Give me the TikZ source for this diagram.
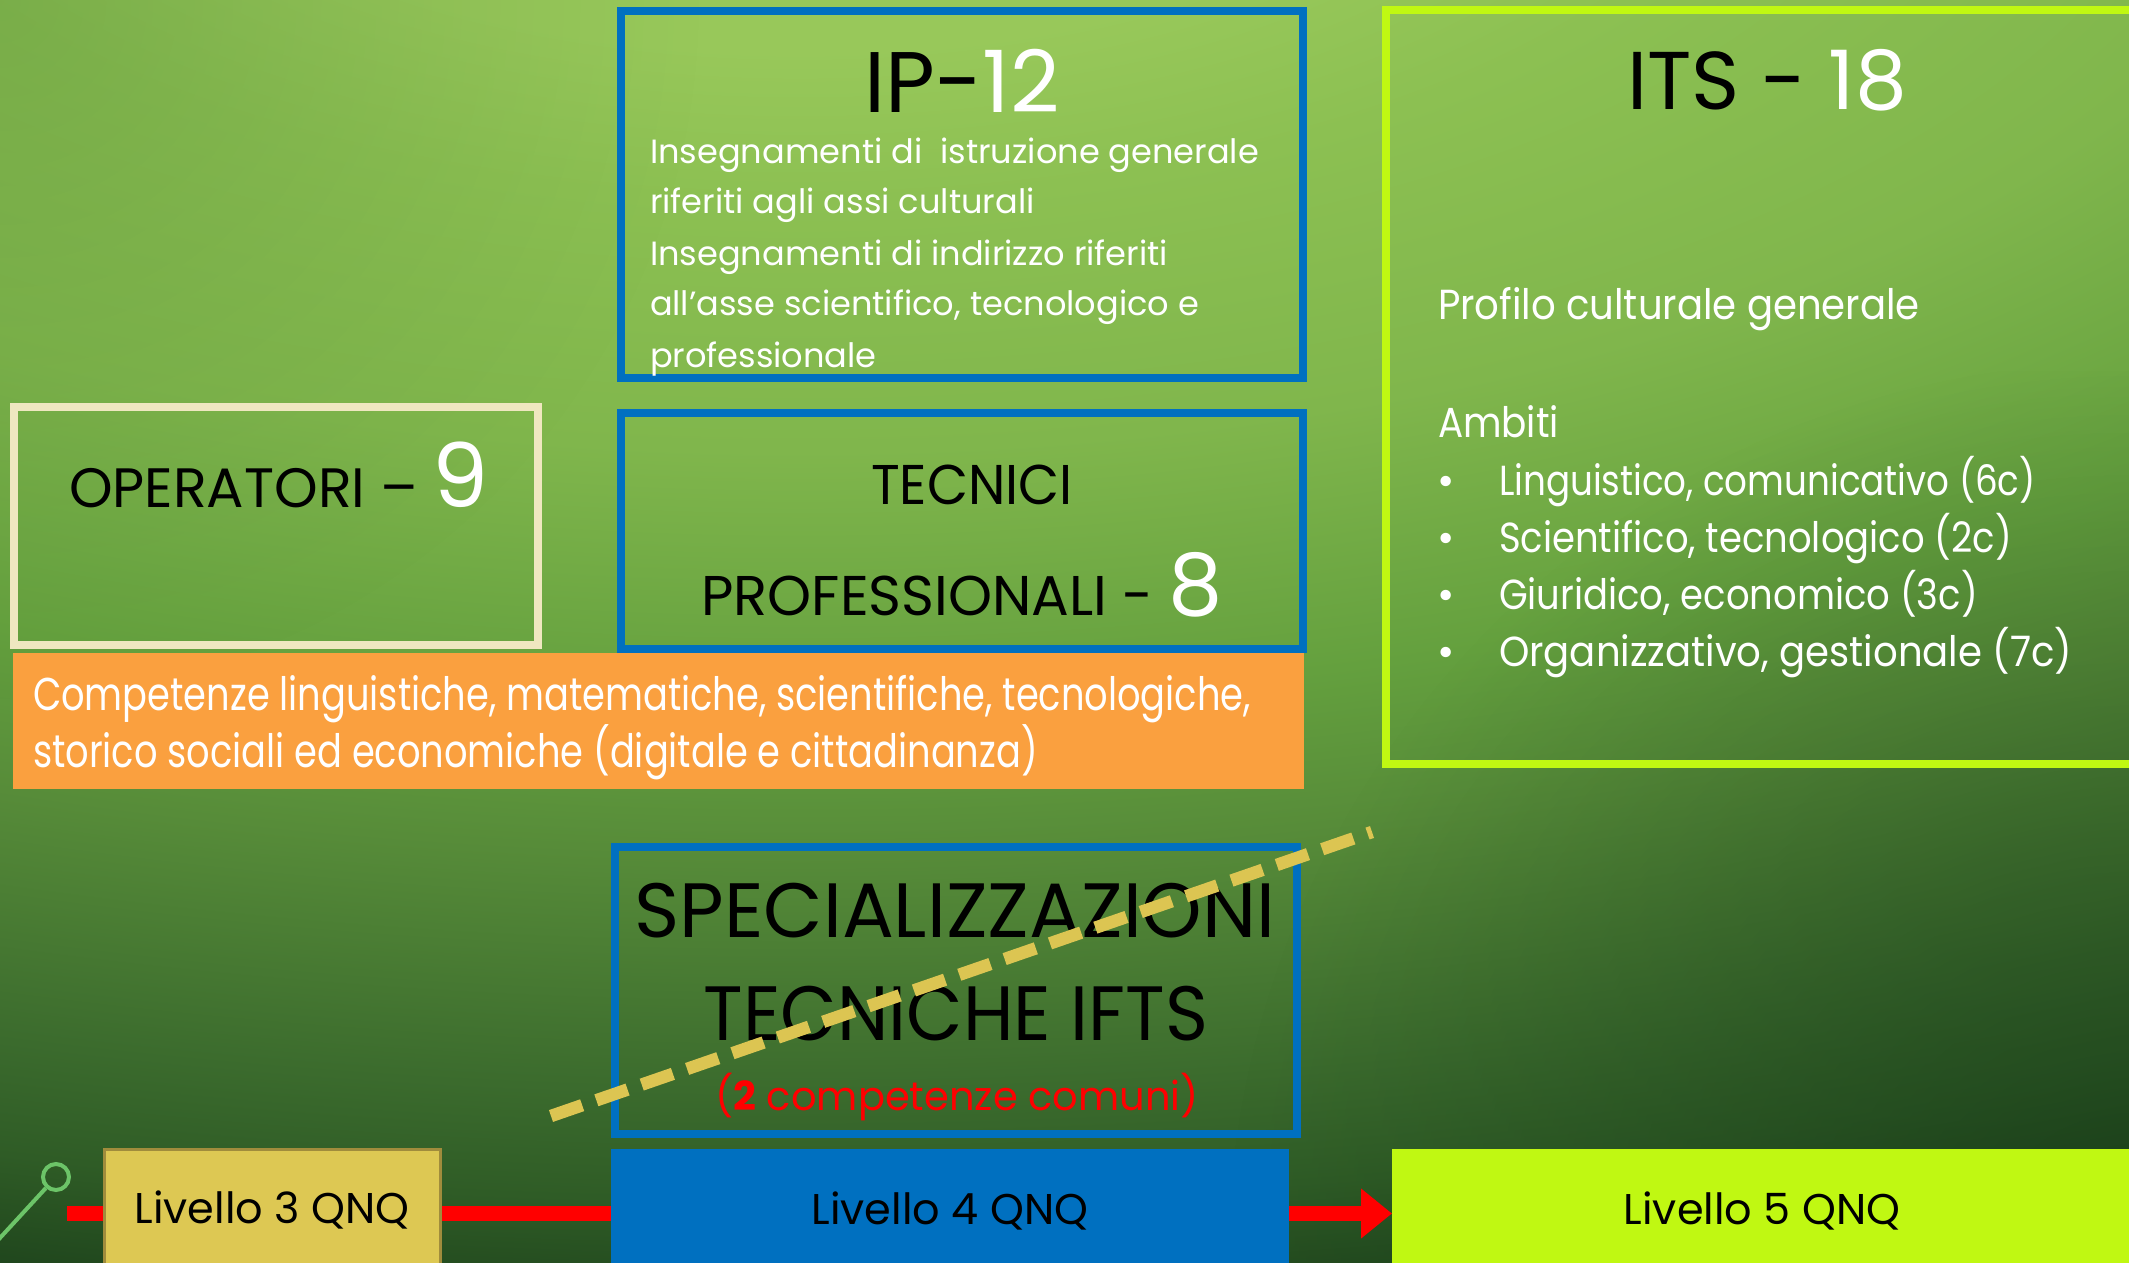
\documentclass[tikz,border=0pt]{standalone}
\usepackage{fontspec}
\setmainfont{Poppins}
\newfontfamily\fOr[FakeStretch=0.80]{Poppins}
\newfontfamily\fIts[FakeStretch=0.89]{Poppins}
\newfontfamily\fItsL[FakeStretch=0.85]{Poppins}
\newfontfamily\fItsS[FakeStretch=0.88]{Poppins}
\newfontfamily\fItsB[FakeStretch=0.92]{Poppins}
\newfontfamily\fSpec[FakeStretch=0.95]{Poppins}
\usetikzlibrary{arrows.meta,fadings}
\definecolor{c0}{HTML}{98C85A}
\definecolor{c1}{HTML}{8CC052}
\definecolor{c2}{HTML}{80B64C}
\definecolor{c3}{HTML}{64A03E}
\definecolor{c4}{HTML}{578C39}
\definecolor{c5}{HTML}{3B6B2D}
\definecolor{c6}{HTML}{2F5C26}
\definecolor{c7}{HTML}{173A18}
\definecolor{bluebox}{HTML}{0070C0}
\definecolor{creambox}{HTML}{EFE7C0}
\definecolor{orangebox}{HTML}{FAA03F}
\definecolor{limebox}{HTML}{C0F812}
\definecolor{yellowbox}{HTML}{DDC853}
\definecolor{yellowedge}{HTML}{A08C3C}
\definecolor{dashcol}{HTML}{DCC552}
\definecolor{pincol}{HTML}{6CC468}
\pgfdeclareradialshading{bgshade}{\pgfpoint{0bp}{0bp}}{color(0bp)=(c0); color(3.75bp)=(c0); color(5.625bp)=(c1); color(8.75bp)=(c2); color(11.875bp)=(c3); color(13.75bp)=(c4); color(16.75bp)=(c5); color(18.125bp)=(c6); color(20.25bp)=(c7); color(50bp)=(c7)}
\tikzfading[name=spotfade, inner color=transparent!0, outer color=transparent!100]
\newcommand\setfs[1]{\fontsize{#1}{#1}\selectfont}
\begin{document}
\begin{tikzpicture}[x=1pt,y=-1pt,
  txt/.style={inner sep=0pt, outer sep=0pt, text=white},
  frame/.style={draw, line width=8pt, inner sep=0pt, outer sep=0pt},
  solidbox/.style={inner sep=0pt, outer sep=0pt},
  pinline/.style={draw=pincol, line width=4pt}]
\useasboundingbox (0,0) rectangle (2129,1263);
\begin{scope}
\clip (0,0) rectangle (2129,1263);
\begin{scope}[xscale=2.2]
\shade[shading=bgshade] (-1636.4,-2250) rectangle (2363.6,1750);
\end{scope}
\fill[c7, fill opacity=0.6, path fading=spotfade] (1229,363) rectangle (3029,2163);
\fill[c4, fill opacity=0.35, path fading=spotfade] (-700,-700) rectangle (700,700);
\end{scope}

% red level line
\coordinate (rstart) at (67,1213.5);
\node[solidbox, fill=limebox, minimum width=748pt, minimum height=121pt] (lvlC) at (1766,1209.5) {};
\draw[red, line width=15pt, -{Triangle[length=31pt,width=48pt]}] (rstart) -- (lvlC.west |- rstart);

% IP-12 box
\node[frame, draw=bluebox, minimum width=682pt, minimum height=367pt] (ipbox) at (962,194.5) {};
\node[txt, anchor=base, text=black] (iptitle) at (962,112) {\setfs{86}IP-\textcolor{white}{12}};
\node[txt, anchor=base west] (ip1) at (650,163) {\setfs{33.6}Insegnamenti di \ istruzione generale};
\node[txt, anchor=base west] (ip2) at (650,213) {\setfs{33.6}riferiti agli assi culturali};
\node[txt, anchor=base west] (ip3) at (650,265) {\setfs{33.6}Insegnamenti di indirizzo riferiti};
\node[txt, anchor=base west] (ip4) at (650,315) {\setfs{33.6}all’asse scientifico, tecnologico e};
\node[txt, anchor=base west] (ip5) at (650,367) {\setfs{33.6}professionale};

% OPERATORI box
\node[frame, draw=creambox, minimum width=524pt, minimum height=238pt] (opbox) at (276,526) {};
\node[txt, anchor=base west, text=black] (optext) at (69,507) {\setfs{55.5}OPERATORI – \textcolor{white}{\setfs{89}9}};

% TECNICI box
\node[frame, draw=bluebox, minimum width=682pt, minimum height=236pt] (tecbox) at (962,531) {};
\node[txt, anchor=base, text=black] (tec1) at (972,504) {\fSpec\setfs{56}TECNICI};
\node[txt, anchor=base, text=black] (tec2) at (962,615) {\setfs{56}PROFESSIONALI - \textcolor{white}{\setfs{86}8}};

% orange band
\node[solidbox, fill=orangebox, minimum width=1291pt, minimum height=136pt] (orange) at (658.5,721) {};
\node[txt, anchor=base west] (or1) at (33,710) {\fOr\setfs{46}Competenze linguistiche, matematiche, scientifiche, tecnologiche,};
\node[txt, anchor=base west] (or2) at (33,767) {\fOr\setfs{46}storico sociali ed economiche (digitale e cittadinanza)};

% ITS box
\draw[limebox, line width=8pt] (2140,10) -- (1386,10) -- (1386,764) -- (2140,764);
\node[txt, anchor=base, text=black] (itstitle) at (1767,110) {\setfs{82}ITS - \textcolor{white}{18}};
\node[txt, anchor=base west] (its1) at (1438,319) {\fItsB\setfs{42}Profilo culturale generale};
\node[txt, anchor=base west] (its2) at (1438,437) {\fIts\setfs{42}Ambiti};
\foreach \y/\t [count=\i] in {495/{\fItsL Linguistico, comunicativo (6c)},552/{\fItsS Scientifico, tecnologico (2c)},609/{\fItsS Giuridico, economico (3c)},666/{\fItsB Organizzativo, gestionale (7c)}}{
  \node[txt, anchor=base] (bul\i) at (1446,\y) {\setfs{42}•};
  \node[txt, anchor=base west] (amb\i) at (1499,\y) {\setfs{42}\t};
}

% SPECIALIZZAZIONI box
\node[frame, draw=bluebox, minimum width=682pt, minimum height=287pt] (specbox) at (956,990.5) {};
\node[txt, anchor=base, text=black] (spec1) at (955,937) {\setfs{77}SPECIALIZZAZIONI};
\node[txt, anchor=base, text=black] (spec2) at (956,1040) {\fSpec\setfs{77}TECNICHE IFTS};
\node[txt, anchor=base, text=red] (spec3) at (957,1110) {\setfs{40}(\textbf{2} competenze comuni)};
\coordinate (dashA) at (551,1116);
\coordinate (dashB) at (1372,832);
\draw[dashcol, line width=12.5pt, dash pattern=on 33pt off 15pt] (dashA) -- (dashB);

% level boxes
\node[solidbox, draw=yellowedge, line width=3pt, fill=yellowbox, minimum width=336pt, minimum height=124pt, anchor=north west] (lvlA) at (104.5,1149.5) {};
\node[txt, anchor=base, text=black] (lvlAt) at (272,1223) {\setfs{43}Livello 3 QNQ};
\node[solidbox, fill=bluebox, minimum width=678pt, minimum height=121pt, anchor=north west] (lvlB) at (611,1149) {};
\node[txt, anchor=base, text=black] (lvlBt) at (950,1224) {\setfs{43}Livello 4 QNQ};
\node[txt, anchor=base, text=black] (lvlCt) at (1762,1224) {\setfs{43}Livello 5 QNQ};

% pin
\node[circle, pinline, minimum size=26pt, inner sep=0pt] (knob) at (56,1177) {};
\coordinate (pinend) at (-12,1251);
\draw[pinline] (knob) -- (pinend);
\end{tikzpicture}
\end{document}
